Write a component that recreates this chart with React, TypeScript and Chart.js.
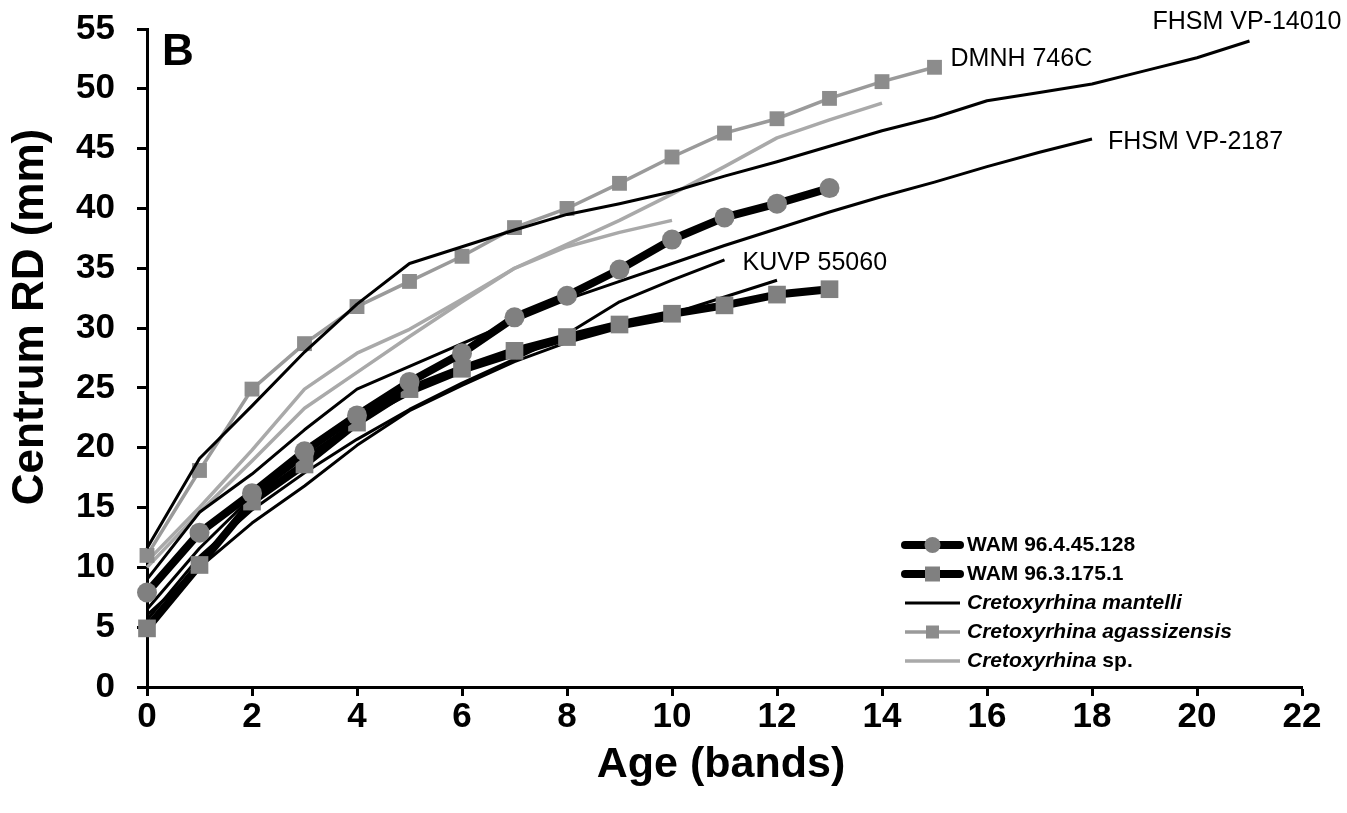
import React, { useEffect, useRef } from "react";
import { Chart, registerables } from "chart.js";

Chart.register(...registerables);

// ---- Data (radius in mm per age band, band index = array index) ----
const X_MIN = 0;
const X_MAX = 22;
const X_STEP = 2;
const Y_MIN = 0;
const Y_MAX = 55;
const Y_STEP = 5;

const WAM_96_4_45_128 = [7.9, 12.9, 16.2, 19.7, 22.7, 25.5, 27.9, 30.9, 32.7, 34.9, 37.4, 39.25, 40.4, 41.7];
const WAM_96_3_175_1 = [4.9, 10.2, 15.5, 18.6, 22.1, 24.9, 26.6, 28.1, 29.25, 30.3, 31.2, 31.9, 32.8, 33.25];
const DMNH_746C = [11.0, 18.1, 24.9, 28.7, 31.8, 33.9, 36.0, 38.4, 40.0, 42.1, 44.3, 46.3, 47.5, 49.2, 50.6, 51.8];
const FHSM_VP_14010 = [11.6, 19.1, 23.5, 28.0, 32.0, 35.4, 36.8, 38.2, 39.5, 40.4, 41.4, 42.7, 43.9, 45.2, 46.5, 47.6, 49.0, 49.7, 50.4, 51.5, 52.6, 54.0];
const FHSM_VP_2187 = [9.0, 14.6, 17.8, 21.5, 24.9, 26.8, 28.7, 30.6, 32.4, 33.9, 35.4, 36.9, 38.3, 39.7, 41.0, 42.2, 43.5, 44.7, 45.8];
const KUVP_55060 = [5.6, 10.9, 14.8, 17.9, 20.7, 23.2, 25.4, 27.4, 29.5, 32.2, 34.0, 35.7];
const MANTELLI_D = [6.5, 11.6, 15.9, 19.2, 22.2, 24.5, 26.3, 27.7, 29.0, 30.2, 31.2, 32.6, 34.0];
const MANTELLI_E = [6.0, 10.0, 13.7, 16.8, 20.2, 23.1, 25.2, 27.2, 28.8, 30.0, 30.8];
const SP_A = [10.5, 15.0, 19.8, 24.9, 27.9, 29.9, 32.4, 35.0, 36.8, 38.0, 39.0];
const SP_B = [10.0, 14.6, 18.9, 23.3, 26.3, 29.3, 32.2, 35.0, 37.0, 39.0, 41.2, 43.5, 45.9, 47.4, 48.8];

const LEGEND_LABELS = [
  "WAM 96.4.45.128",
  "WAM 96.3.175.1",
  "Cretoxyrhina mantelli",
  "Cretoxyrhina agassizensis",
  "Cretoxyrhina sp.",
];

const SPECIMEN_LABELS = [
  { text: "FHSM VP-14010", series: FHSM_VP_14010, dx: -97, dy: -19 },
  { text: "DMNH 746C", series: DMNH_746C, dx: 16, dy: -8 },
  { text: "FHSM VP-2187", series: FHSM_VP_2187, dx: 16, dy: 3 },
  { text: "KUVP 55060", series: KUVP_55060, dx: 18, dy: 3 },
];

const PANEL_LETTER = "B";
const X_TITLE = "Age (bands)";
const Y_TITLE = "Centrum RD (mm)";

// ---- styles ----
const FONT = "'Liberation Sans', Arial, Helvetica, sans-serif";
const BLACK = "#000000";
const MARKER_GRAY = "#808080";
const AGAS_LINE = "#9a9a9a";
const AGAS_MARK = "#8c8c8c";
const SP_GRAY = "#a9a9a9";

const toPts = (arr: number[]) => arr.map((y, i) => ({ x: i, y }));

const overlayPlugin = {
  id: "overlay",
  afterDraw(chart: any) {
    const ctx = chart.ctx as CanvasRenderingContext2D;
    const xs = chart.scales.x;
    const ys = chart.scales.y;
    ctx.save();

    // panel letter
    ctx.fillStyle = BLACK;
    ctx.font = `bold 44px ${FONT}`;
    ctx.textAlign = "left";
    ctx.textBaseline = "alphabetic";
    ctx.fillText(PANEL_LETTER, 162, 65);

    // axis titles
    ctx.font = `bold 43px ${FONT}`;
    ctx.textAlign = "center";
    ctx.textBaseline = "middle";
    ctx.fillText(X_TITLE, 721, 765);
    ctx.save();
    ctx.translate(31, 317);
    ctx.rotate(-Math.PI / 2);
    ctx.font = `bold 44px ${FONT}`;
    ctx.fillText(Y_TITLE, 0, 0);
    ctx.restore();

    // specimen labels
    ctx.textAlign = "left";
    ctx.font = `25px ${FONT}`;
    ctx.textBaseline = "middle";
    SPECIMEN_LABELS.forEach((l) => {
      const i = l.series.length - 1;
      const px = xs.getPixelForValue(i);
      const py = ys.getPixelForValue(l.series[i]);
      ctx.fillText(l.text, px + l.dx, py + l.dy);
    });

    // legend
    const lx0 = 905;
    const lx1 = 960;
    const tx = 967;
    const rowY0 = 545;
    const rowH = 29;
    LEGEND_LABELS.forEach((lab, k) => {
      const y = rowY0 + k * rowH;
      ctx.lineCap = "round";
      if (k === 0 || k === 1) {
        ctx.strokeStyle = BLACK;
        ctx.lineWidth = 8;
      } else if (k === 2) {
        ctx.strokeStyle = BLACK;
        ctx.lineWidth = 3;
        ctx.lineCap = "butt";
      } else if (k === 3) {
        ctx.strokeStyle = AGAS_LINE;
        ctx.lineWidth = 3.5;
        ctx.lineCap = "butt";
      } else {
        ctx.strokeStyle = SP_GRAY;
        ctx.lineWidth = 3.5;
        ctx.lineCap = "butt";
      }
      ctx.beginPath();
      ctx.moveTo(lx0, y);
      ctx.lineTo(lx1, y);
      ctx.stroke();
      const cx = (lx0 + lx1) / 2;
      if (k === 0) {
        ctx.fillStyle = MARKER_GRAY;
        ctx.beginPath();
        ctx.arc(cx, y, 8, 0, Math.PI * 2);
        ctx.fill();
      } else if (k === 1) {
        ctx.fillStyle = MARKER_GRAY;
        ctx.fillRect(cx - 7.5, y - 7.5, 15, 15);
      } else if (k === 3) {
        ctx.fillStyle = AGAS_MARK;
        ctx.fillRect(cx - 6.5, y - 6.5, 13, 13);
      }
      ctx.fillStyle = BLACK;
      ctx.textBaseline = "middle";
      if (k <= 1) {
        ctx.font = `bold 21px ${FONT}`;
        ctx.fillText(lab, tx, y);
      } else if (k === 4) {
        const parts = lab.split(" ");
        ctx.font = `italic bold 21px ${FONT}`;
        ctx.fillText(parts[0], tx, y);
        const w = ctx.measureText(parts[0] + " ").width;
        ctx.font = `bold 21px ${FONT}`;
        ctx.fillText(parts.slice(1).join(" "), tx + w, y);
      } else {
        ctx.font = `italic bold 21px ${FONT}`;
        ctx.fillText(lab, tx, y);
      }
    });
    ctx.restore();
  },
};

export default function App() {
  const ref = useRef<HTMLCanvasElement | null>(null);

  useEffect(() => {
    document.body.style.margin = "0";
    if (!ref.current) return;

    const thick = (label: string, arr: number[], style: string, r: number) => ({
      label,
      data: toPts(arr),
      borderColor: BLACK,
      borderWidth: 8,
      pointStyle: style,
      pointRadius: r,
      pointHoverRadius: r,
      pointBackgroundColor: MARKER_GRAY,
      pointBorderColor: MARKER_GRAY,
      pointBorderWidth: 0,
      borderJoinStyle: "round",
      borderCapStyle: "round",
      clip: false,
    });
    const thin = (label: string, arr: number[], color: string, w: number) => ({
      label,
      data: toPts(arr),
      borderColor: color,
      borderWidth: w,
      pointRadius: 0,
      pointHoverRadius: 0,
      borderJoinStyle: "round",
      clip: false,
    });

    const chart = new Chart(ref.current, {
      type: "line",
      data: {
        datasets: [
          thick("WAM 96.4.45.128", WAM_96_4_45_128, "circle", 10),
          thick("WAM 96.3.175.1", WAM_96_3_175_1, "rect", 12.5),
          thin("FHSM VP-14010", FHSM_VP_14010, BLACK, 3),
          thin("FHSM VP-2187", FHSM_VP_2187, BLACK, 3),
          thin("KUVP 55060", KUVP_55060, BLACK, 3),
          thin("C. mantelli D", MANTELLI_D, BLACK, 3),
          thin("C. mantelli E", MANTELLI_E, BLACK, 3),
          {
            label: "DMNH 746C",
            data: toPts(DMNH_746C),
            borderColor: AGAS_LINE,
            borderWidth: 3.5,
            pointStyle: "rect",
            pointRadius: 10.5,
            pointHoverRadius: 10.5,
            pointBackgroundColor: AGAS_MARK,
            pointBorderColor: AGAS_MARK,
            pointBorderWidth: 0,
            clip: false,
          },
          thin("Cretoxyrhina sp. A", SP_A, SP_GRAY, 3.5),
          thin("Cretoxyrhina sp. B", SP_B, SP_GRAY, 3.5),
        ] as any,
      },
      options: {
        animation: false,
        responsive: false,
        devicePixelRatio: 1,
        events: [],
        layout: { padding: { top: 29, right: 45, left: 0, bottom: 0 } },
        plugins: { legend: { display: false }, tooltip: { enabled: false } },
        elements: { line: { tension: 0 } },
        scales: {
          x: {
            type: "linear",
            min: X_MIN,
            max: X_MAX,
            ticks: {
              stepSize: X_STEP,
              color: BLACK,
              font: { family: FONT, size: 35, weight: "bold" },
              padding: 0,
              maxRotation: 0,
            },
            grid: {
              drawOnChartArea: false,
              drawTicks: true,
              tickLength: 9,
              tickWidth: 3,
              tickColor: BLACK,
            },
            border: { display: true, color: BLACK, width: 3 },
            title: { display: false },
            afterFit: (s: any) => {
              s.height = 126;
              s.paddingLeft = 0;
              s.paddingRight = 0;
            },
          },
          y: {
            type: "linear",
            min: Y_MIN,
            max: Y_MAX,
            ticks: {
              stepSize: Y_STEP,
              color: BLACK,
              font: { family: FONT, size: 35, weight: "bold" },
              padding: 22,
            },
            grid: {
              drawOnChartArea: false,
              drawTicks: true,
              tickLength: 10,
              tickWidth: 3,
              tickColor: BLACK,
            },
            border: { display: true, color: BLACK, width: 3 },
            title: { display: false },
            afterFit: (s: any) => {
              s.width = 147;
              s.paddingTop = 0;
              s.paddingBottom = 0;
            },
          },
        },
      } as any,
      plugins: [overlayPlugin],
    });

    return () => chart.destroy();
  }, []);

  return (
    <div style={{ position: "absolute", left: 0, top: 0, width: 1347, height: 813, background: "#fff" }}>
      <canvas ref={ref} width={1347} height={813} style={{ width: 1347, height: 813, display: "block" }} />
    </div>
  );
}
